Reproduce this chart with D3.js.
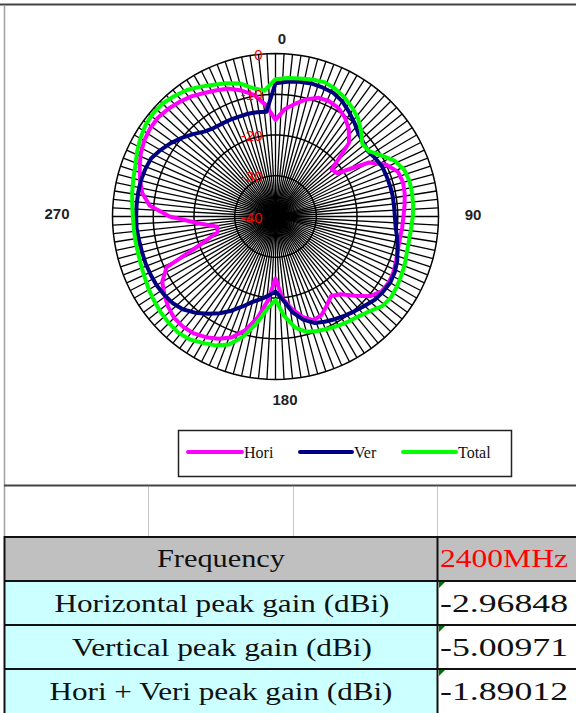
<!DOCTYPE html>
<html><head><meta charset="utf-8">
<script src="https://cdn.jsdelivr.net/npm/d3@7/dist/d3.min.js"></script>
<style>body{margin:0;background:#fff}svg{display:block}</style></head>
<body><svg id="c" width="576" height="713"></svg>
<script>
// Category angles (degrees, 0 = top, clockwise)
const angles = d3.range(0, 360, 5);
// Series values (dB) at each angle
const hori = [-16.3,-13.5,-11.9,-10.2,-9.0,-8.8,-9.2,-10.3,-12.0,-14.5,-22.0,-21.5,-13.5,-10.0,-8.0,-7.6,-7.8,-8.2,-8.6,-8.8,-9.0,-8.9,-8.5,-8.0,-7.8,-8.1,-9.6,-12.5,-15.1,-16.2,-14.8,-13.3,-12.9,-14.5,-17.0,-19.7,-24.8,-19.4,-14.8,-11.0,-8.4,-6.9,-5.8,-5.0,-4.7,-4.8,-5.6,-6.7,-7.9,-10.5,-21.0,-25.3,-25.5,-21.0,-14.0,-9.0,-6.8,-5.6,-4.5,-3.5,-2.8,-2.4,-2.3,-2.7,-3.3,-4.0,-5.0,-5.8,-6.6,-8.0,-9.7,-12.5];
const ver = [-7.3,-6.8,-6.4,-6.2,-6.3,-6.5,-7.3,-8.6,-9.9,-11.2,-11.8,-12.2,-11.6,-11.1,-11.0,-10.9,-10.8,-10.8,-10.7,-10.4,-9.7,-9.0,-8.2,-7.7,-7.5,-7.8,-8.2,-9.0,-9.7,-10.3,-10.9,-11.5,-12.2,-13.8,-16.2,-19.5,-21.6,-20.5,-19.4,-18.3,-16.5,-14.5,-12.6,-10.9,-9.2,-7.8,-7.0,-6.6,-6.3,-6.2,-6.1,-6.1,-6.0,-5.8,-5.8,-5.8,-5.8,-5.8,-6.0,-6.3,-7.4,-8.6,-10.0,-11.4,-12.8,-13.5,-13.7,-13.8,-13.9,-13.9,-14.0,-14.2];
const total = [-6.3,-5.9,-5.6,-5.2,-4.9,-5.4,-6.2,-7.3,-8.5,-10.3,-12.2,-12.0,-10.0,-7.7,-6.4,-6.0,-6.0,-6.1,-6.3,-6.6,-6.7,-6.6,-6.2,-5.9,-5.6,-5.4,-5.8,-7.2,-8.1,-8.6,-9.1,-9.6,-10.1,-10.7,-12.3,-15.5,-19.5,-17.3,-13.4,-9.5,-6.6,-5.1,-4.2,-3.2,-2.8,-3.0,-3.3,-3.7,-4.1,-4.6,-4.9,-5.1,-5.1,-5.1,-5.0,-4.7,-4.3,-3.9,-3.4,-2.5,-1.7,-1.0,-0.7,-0.8,-1.4,-2.1,-3.2,-4.3,-5.2,-6.2,-8.0,-9.0];
const seriesNames = ["Hori", "Ver", "Total"];
const seriesColors = ["#ff00ff", "#000080", "#00ff00"];
const radialTicks = [0, -10, -20, -30, -40];
const directionLabels = ["0", "90", "180", "270"];
const tableLabels = ["Frequency", "Horizontal peak gain (dBi)", "Vertical peak gain (dBi)", "Hori + Veri peak gain (dBi)"];
const tableValues = ["2400MHz", "-2.96848", "-5.00971", "-1.89012"];

const svg = d3.select("#c");
const cx = 275.5, cy = 216.5, R = 163;
const r = d3.scaleLinear().domain([-40, 0]).range([0, R]);
const toRad = d => d * Math.PI / 180;

// Chart area frame
svg.append("rect").attr("x", 0).attr("y", 0).attr("width", 576).attr("height", 713).attr("fill", "#fff");
svg.append("line").attr("x1", 0).attr("x2", 576).attr("y1", 4.5).attr("y2", 4.5).attr("stroke", "#444").attr("stroke-width", 2);
svg.append("line").attr("x1", 4.5).attr("x2", 4.5).attr("y1", 5).attr("y2", 536).attr("stroke", "#a0a0a0").attr("stroke-width", 1.5);
svg.append("line").attr("x1", 4).attr("x2", 576).attr("y1", 485.5).attr("y2", 485.5).attr("stroke", "#444").attr("stroke-width", 2);
[148.5, 293.5, 437.5].forEach(x => svg.append("line").attr("x1", x).attr("x2", x).attr("y1", 487).attr("y2", 536).attr("stroke", "#c8c8c8").attr("stroke-width", 1));

// Polar grid
const g = svg.append("g").attr("transform", `translate(${cx},${cy})`);
const spokes = d3.range(0, 360, 3);
g.selectAll("line.spoke").data(spokes).join("line").attr("class", "spoke")
  .attr("x1", 0).attr("y1", 0)
  .attr("x2", d => R * Math.sin(toRad(d))).attr("y2", d => -R * Math.cos(toRad(d)))
  .attr("stroke", "#000").attr("stroke-width", 1.3);
const ringLine = d3.lineRadial().angle(d => toRad(d[0])).radius(d => r(d[1])).curve(d3.curveLinearClosed);
radialTicks.filter(t => t > -40).forEach(t => {
  g.append("path").attr("d", ringLine(spokes.map(a => [a, t])))
   .attr("fill", "none").attr("stroke", "#000").attr("stroke-width", 1.5);
});

// Series
const seriesData = [hori, ver, total];
const line = d3.lineRadial().angle((d, i) => toRad(angles[i])).radius(d => r(d)).curve(d3.curveLinearClosed);
seriesData.forEach((s, k) => {
  g.append("path").attr("d", line(s)).attr("fill", "none")
   .attr("stroke", seriesColors[k]).attr("stroke-width", 4).attr("stroke-linejoin", "round");
});

// Radial tick labels
g.selectAll("text.rt").data(radialTicks).join("text").attr("class", "rt")
  .attr("x", -13).attr("y", d => -r(d) + 6)
  .attr("text-anchor", "end").attr("fill", "#ff0000")
  .attr("font-family", "Liberation Sans, Arial, sans-serif").attr("font-size", 15)
  .text(d => d);

// Direction labels
const dirPos = [[282, 44], [473, 220], [285, 405], [57, 219]];
svg.selectAll("text.dir").data(directionLabels).join("text").attr("class", "dir")
  .attr("x", (d, i) => dirPos[i][0]).attr("y", (d, i) => dirPos[i][1])
  .attr("text-anchor", "middle").attr("fill", "#222")
  .attr("font-family", "Liberation Sans, Arial, sans-serif").attr("font-weight", "bold").attr("font-size", 15)
  .text(d => d);

// Legend
svg.append("rect").attr("x", 178.5).attr("y", 430.5).attr("width", 333).attr("height", 46)
  .attr("fill", "#fff").attr("stroke", "#222").attr("stroke-width", 1.5);
const legX = [188, 300, 403];
const legW = [54, 52, 53];
seriesNames.forEach((n, i) => {
  svg.append("line").attr("x1", legX[i]).attr("x2", legX[i] + legW[i]).attr("y1", 452).attr("y2", 452)
    .attr("stroke", seriesColors[i]).attr("stroke-width", 4).attr("stroke-linecap", "round");
  svg.append("text").attr("x", legX[i] + legW[i] + 2).attr("y", 458)
    .attr("font-family", "Liberation Serif, Times New Roman, serif").attr("font-size", 16).attr("fill", "#111")
    .text(n);
});

// Table
const rowY = [538, 581, 625, 669, 713];
svg.append("rect").attr("x", 4).attr("y", 536).attr("width", 572).attr("height", 3).attr("fill", "#111");
for (let i = 0; i < 4; i++) {
  svg.append("rect").attr("x", 5).attr("y", rowY[i]).attr("width", 432).attr("height", rowY[i+1] - rowY[i])
    .attr("fill", i === 0 ? "#c0c0c0" : "#ccffff");
  svg.append("rect").attr("x", 438).attr("y", rowY[i]).attr("width", 138).attr("height", rowY[i+1] - rowY[i])
    .attr("fill", i === 0 ? "#c0c0c0" : "#ffffff");
  if (i > 0) svg.append("line").attr("x1", 4).attr("x2", 576).attr("y1", rowY[i]).attr("y2", rowY[i]).attr("stroke", "#111").attr("stroke-width", 2);
}
svg.append("line").attr("x1", 437.5).attr("x2", 437.5).attr("y1", 538).attr("y2", 713).attr("stroke", "#111").attr("stroke-width", 2);
svg.append("line").attr("x1", 4.5).attr("x2", 4.5).attr("y1", 536).attr("y2", 713).attr("stroke", "#111").attr("stroke-width", 2);
// comment indicators
for (let i = 1; i < 4; i++) {
  svg.append("path").attr("d", `M439,${rowY[i]+1}h6l-6,6z`).attr("fill", "#007000");
}
const labelW = [128, 335, 300, 343];
const labelCx = [221, 222, 222, 221];
const baseY = [567, 612, 656, 700];
tableLabels.forEach((t, i) => {
  svg.append("text").attr("x", labelCx[i]).attr("y", baseY[i]).attr("text-anchor", "middle")
    .attr("font-family", "Liberation Serif, DejaVu Serif, serif").attr("font-size", 25).attr("fill", "#111")
    .attr("textLength", labelW[i]).attr("lengthAdjust", "spacingAndGlyphs").text(t);
});
tableValues.forEach((t, i) => {
  svg.append("text").attr("x", 440).attr("y", baseY[i])
    .attr("font-family", "Liberation Serif, DejaVu Serif, serif").attr("font-size", 25)
    .attr("fill", i === 0 ? "#ff0000" : "#111")
    .attr("textLength", 128).attr("lengthAdjust", "spacingAndGlyphs").text(t);
});
</script></body></html>
